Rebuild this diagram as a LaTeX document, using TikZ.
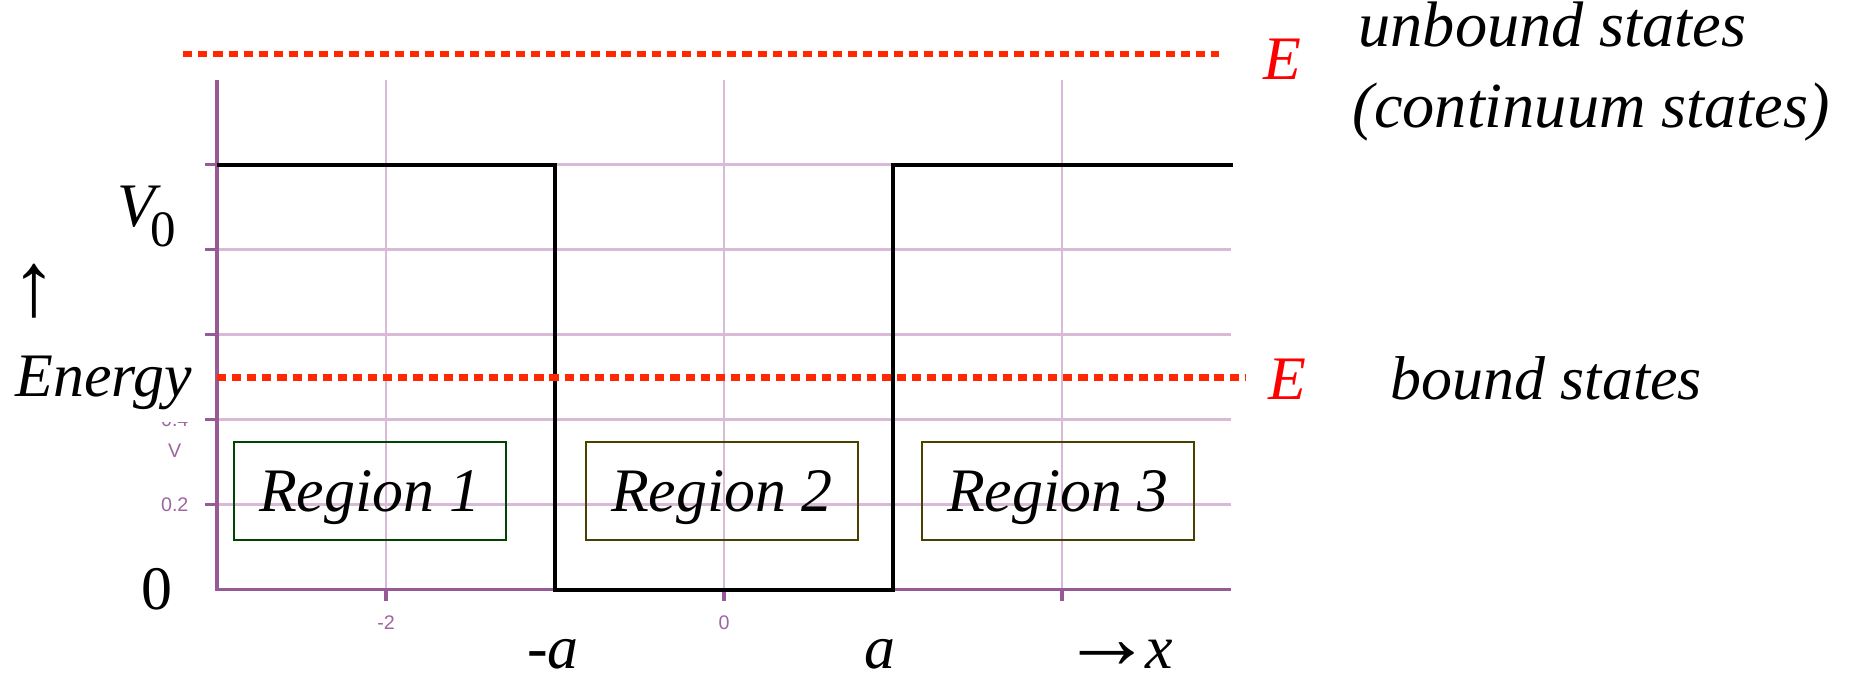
\documentclass[tikz,border=0pt]{standalone}
\usepackage{fontspec}
\setmainfont{Liberation Serif}
\setsansfont{Liberation Sans}
\definecolor{gridpurple}{HTML}{D8BAD8}
\definecolor{axispurple}{HTML}{965A96}
\definecolor{tickpurple}{HTML}{A064A0}
\definecolor{levelred}{HTML}{FF2800}
\definecolor{labelred}{HTML}{FF0000}
\definecolor{regiongreen}{HTML}{004400}
\definecolor{regionolive}{HTML}{4A4000}
\usetikzlibrary{positioning}
\newcommand{\bigfont}{\fontsize{17.6}{22}\selectfont}
\newcommand{\arrfont}{\fontsize{26}{26}\selectfont}
\tikzset{
  lbl/.style={font=\bigfont\itshape, inner sep=0pt, anchor=base west},
  ticklbl/.style={font=\fontsize{5.6}{6}\selectfont\sffamily, text=tickpurple, inner sep=0pt},
  regbox/.style={
    draw=#1, line width=0.5pt, minimum width=2.72cm, minimum height=0.98cm,
    font=\bigfont\itshape, text depth=0pt, inner sep=0pt
  },
  regbox/.default=regionolive,
  gridline/.style={gridpurple, line width=0.8pt},
  axisline/.style={axispurple, line width=0.9pt},
  well/.style={black, line width=1.3pt},
  level/.style={levelred, line width=1.8pt, dash pattern=on 2.6pt off 1.7pt},
}

\begin{document}
\begin{tikzpicture}[x=1.69cm, y=4.25cm]
    \useasboundingbox (-4.284,-0.207) rectangle (6.692,1.388);

    \foreach \gx in {-2,0,2} {
      \draw[gridline] (\gx,0) -- (\gx,1.2);
      \draw[axisline] (\gx,0) -- (\gx,-0.026);
    }
    \foreach \gy in {0.2,0.4,0.6,0.8,1.0} {
      \draw[gridline] (-3,\gy) -- (3,\gy);
      \draw[axisline] (-3.07,\gy) -- (-3,\gy);
    }
    \draw[axisline] (-3,1.2) -- (-3,0) -- (3,0);

    \node[ticklbl] (tm2) at (-2,-0.078) {-2};
    \node[ticklbl] (t0) at (0,-0.078) {0};
    \node[ticklbl] (v02) at (-3.25,0.2) {0.2};
    \node[ticklbl] (vv) at (-3.25,0.327) {V};
    \node[ticklbl] (v04) at (-3.25,0.4) {0.4};

    \draw[well] (-3,1) -- (-1,1) -- (-1,0) -- (1,0) -- (1,1) -- (3.01,1);

    \draw[level] (-3.2,1.261) -- (2.93,1.261);
    \draw[level] (-3,0.5) -- (3.083,0.5);

    \node[regbox=regiongreen] (reg1) at (-2.095,0.233) {Region 1};
    \node[regbox] (reg2) at (-0.012,0.233) {Region 2};
    \node[regbox] (reg3) at (1.976,0.233) {Region 3};

    \node[lbl, text=labelred] (eup) at (3.189,1.2) {E};
    \node[lbl, font=\fontsize{18.3}{22}\selectfont\itshape] (unb) at (3.751,1.278) {unbound states};
    \node[lbl, font=\fontsize{18.3}{22}\selectfont\itshape] (cont) at (3.716,1.087) {(continuum states)};
    \node[lbl, text=labelred] (elow) at (3.219,0.447) {E};
    \node[lbl] (bnd) at (3.941,0.449) {bound states};

    \node[lbl] (vnull) at (-3.592,0.854)
      {V\kern-0.08em\raisebox{-0.32em}{\fontsize{14.5}{15}\selectfont\upshape 0}};
    \node[font=\arrfont, inner sep=0pt] (uparr) at (-4.083,0.703) {↑};
    \node[lbl, fill=white, inner sep=0.12cm] (energy) at (-4.266,0.454) {Energy};
    \node[font=\bigfont, inner sep=0pt, anchor=base] (zero) at (-3.355,-0.047) {0};

    \node[lbl, anchor=base] (mina) at (-1.012,-0.184) {-a};
    \node[lbl, anchor=base] (plusa) at (0.923,-0.184) {a};
    \node[lbl, anchor=base west] (xdir) at (1.99,-0.184)
      {\smash{\arrfont\upshape\bfseries →}\kern-2pt x};
\end{tikzpicture}
\end{document}
